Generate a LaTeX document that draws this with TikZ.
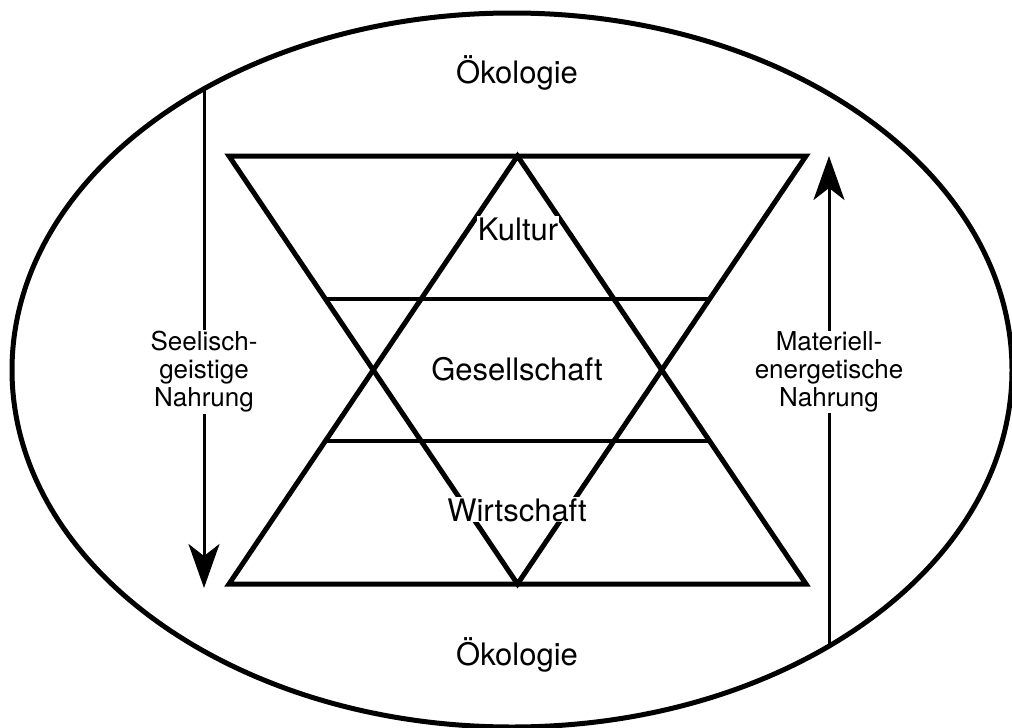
\documentclass[tikz,border=0pt]{standalone}
\usepackage{fontspec}
\setmainfont{TeX Gyre Heros}
\usetikzlibrary{arrows.meta,calc}
\tikzset{
  tri/.style={line width=5pt, line join=miter},
  band/.style={line width=4pt},
  oval/.style={line width=5pt},
  flow/.style={line width=3pt, -{Stealth[length=44pt, width=31pt, inset=12pt]}},
  big/.style={font=\fontsize{31}{34}\selectfont, inner sep=1pt},
  side/.style={font=\fontsize{26}{28}\selectfont, align=center, fill=white, inner sep=1pt},
}
\begin{document}
\begin{tikzpicture}[x=1pt, y=-1pt]
\useasboundingbox (0,0) rectangle (1012,728);
% ellipse
\draw[oval] (512,370) ellipse [x radius=500, y radius=357];
% vertices
\coordinate (TL) at (229,156);
\coordinate (TR) at (806,156);
\coordinate (TA) at (517.5,156);
\coordinate (BL) at (229,584);
\coordinate (BR) at (806,584);
\coordinate (BA) at (517.5,584);
% triangles
\draw[tri] (TL) -- (TR) -- (BA) -- cycle;
\draw[tri] (BL) -- (BR) -- (TA) -- cycle;
% bands
\coordinate (L1) at ($(TL)!1/3!(BA)$);
\coordinate (R1) at ($(TR)!1/3!(BA)$);
\coordinate (L2) at ($(BL)!1/3!(TA)$);
\coordinate (R2) at ($(BR)!1/3!(TA)$);
\draw[band] (L1) -- (R1);
\draw[band] (L2) -- (R2);
% labels
\node[big, anchor=base] (oekotop) at (517,83) {Ökologie};
\node[big, anchor=base] (oekobot) at (517,665) {Ökologie};
\node[big, anchor=base, fill=white] (kultur) at (518,240) {Kultur};
\node[big, anchor=base] (ges) at (517,380) {Gesellschaft};
\node[big, anchor=base, fill=white] (wirt) at (517,521) {Wirtschaft};
% arrows
\coordinate (Lstart) at (204,89);
\coordinate (Lend) at (204,588);
\coordinate (Rstart) at (829,646);
\coordinate (Rend) at (829,156);
\draw[flow] (Lstart) -- (Lend);
\draw[flow] (Rstart) -- (Rend);
\node[side] (seel) at (204,372) {Seelisch-\\geistige\\Nahrung};
\node[side] (mat) at (829,372) {Materiell-\\energetische\\Nahrung};
\end{tikzpicture}
\end{document}
